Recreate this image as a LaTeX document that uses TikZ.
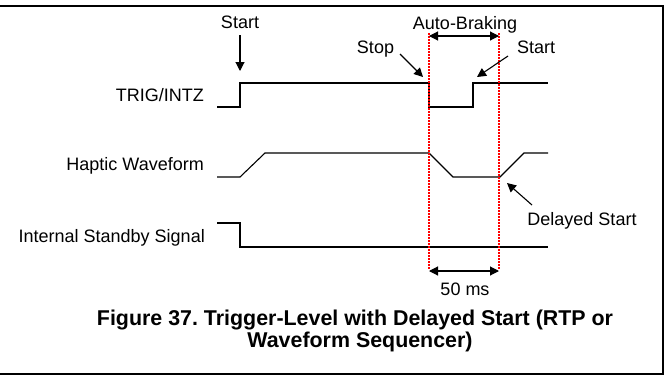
\documentclass[tikz,border=0pt]{standalone}
\usepackage{fontspec}
\setmainfont{Liberation Sans}
\usetikzlibrary{arrows.meta}
\frenchspacing
\begin{document}
\begin{tikzpicture}[x=1pt, y=-1pt, >={Triangle[length=9pt,width=9pt]},
  sig/.style={line width=1.1pt},
  marker/.style={red, dash pattern=on 1.5pt off 1.5pt, line width=1.4pt},
  lbl/.style={font=\fontsize{18}{21}\selectfont, inner sep=0pt, anchor=base},
  ann/.style={->, line width=1.1pt}]
  \useasboundingbox (0,0) rectangle (669,375);
  \draw[line width=1.3pt] (-2,6) -- (663,6) -- (663,374) -- (-2,374);

  % signal names
  \node[lbl, anchor=base east] (trig) at (204,101) {TRIG/INTZ};
  \node[lbl, anchor=base east] (hapt) at (204,170) {Haptic Waveform};
  \node[lbl, anchor=base east] (stby) at (205,242) {Internal Standby Signal};

  % waveforms
  \draw[sig] (217,107) -- (240,107) -- (240,83) -- (429,83) -- (429,107)
    -- (473,107) -- (473,83) -- (548,83);
  \draw[sig] (217,177) -- (240,177) -- (265,153) -- (429,153) -- (453,177)
    -- (500,177) -- (524,153) -- (548,153);
  \draw[sig] (217,223) -- (240,223) -- (240,247) -- (548,247);

  % 50 ms window
  \coordinate (M1top) at (429,33);
  \coordinate (M1bot) at (429,270);
  \coordinate (M2top) at (499,33);
  \coordinate (M2bot) at (499,270);
  \draw[marker] (M1top) -- (M1bot);
  \draw[marker] (M2top) -- (M2bot);
  \draw[<->, line width=1.1pt] (429,36) -- (499,36);
  \draw[<->, line width=1.1pt] (429,271) -- (499,271);
  \node[lbl] (brake) at (465,29) {Auto-Braking};
  \node[lbl] (ms) at (465,295) {50 ms};

  % annotations
  \node[lbl] (start1) at (240,28) {Start};
  \node[lbl] (stop) at (375.5,53) {Stop};
  \node[lbl] (start2) at (536,53) {Start};
  \node[lbl] (delay) at (582,225) {Delayed Start};
  \coordinate (S1a) at (240,35);
  \coordinate (S1b) at (240,71);
  \coordinate (STa) at (400,54);
  \coordinate (STb) at (423,77);
  \coordinate (S2a) at (508,56);
  \coordinate (S2b) at (477,77);
  \coordinate (DSa) at (532,205);
  \coordinate (DSb) at (507,183);
  \draw[ann] (S1a) -- (S1b);
  \draw[ann] (STa) -- (STb);
  \draw[ann] (S2a) -- (S2b);
  \draw[ann] (DSa) -- (DSb);

  % caption
  \node[lbl, font=\fontsize{21.4}{24}\bfseries] (cap1) at (355,325)
    {Figure 37. Trigger-Level with Delayed Start (RTP or};
  \node[lbl, font=\fontsize{21.4}{24}\bfseries] (cap2) at (360,347)
    {Waveform Sequencer)};
\end{tikzpicture}
\end{document}
